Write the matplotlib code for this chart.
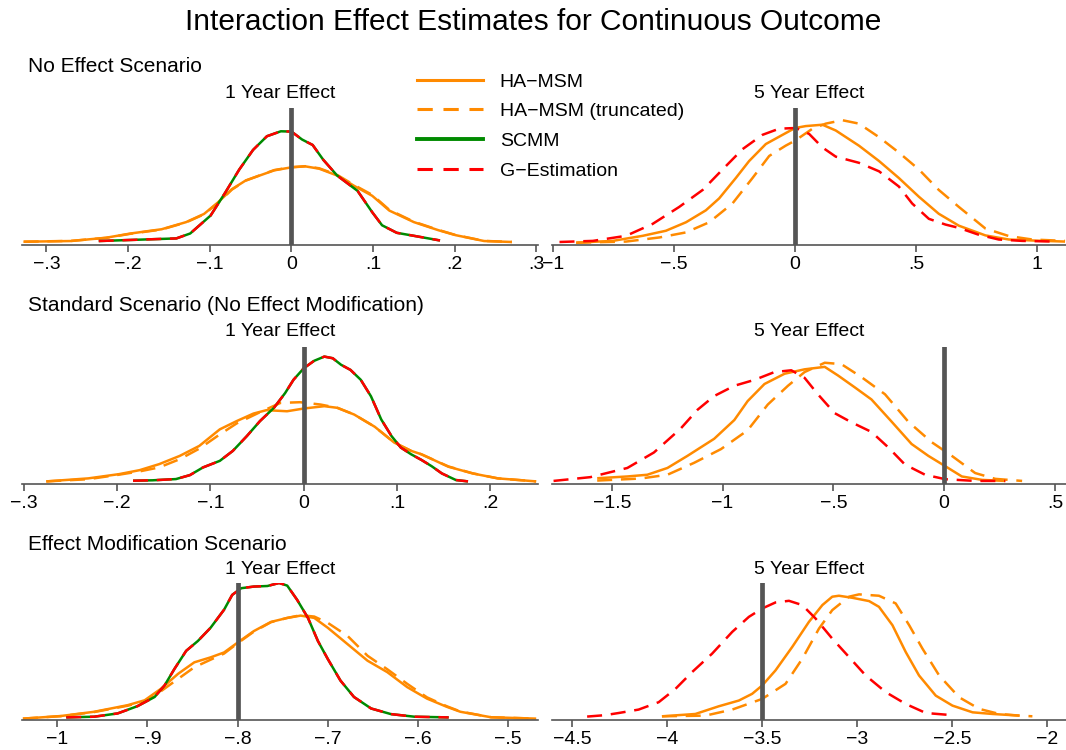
import matplotlib
matplotlib.use('Agg')
import matplotlib.pyplot as plt
from matplotlib.ticker import FuncFormatter
from matplotlib.lines import Line2D

plt.rcParams['font.family'] = ['Liberation Sans', 'DejaVu Sans']

# kernel density curves; heights are relative to panel height
# --- No effect scenario, 1 year ---
NO1_HA_X = [-0.328, -0.27, -0.227, -0.197, -0.159, -0.129, -0.107, -0.09, -0.073, -0.056, -0.039,
            -0.021, 0.0, 0.017, 0.034, 0.056, 0.077, 0.099, 0.12, 0.15, 0.18, 0.201, 0.236, 0.27]
NO1_HA_Y = [0.024, 0.029, 0.053, 0.084, 0.115, 0.167, 0.227, 0.311, 0.407, 0.471, 0.507,
            0.545, 0.567, 0.574, 0.557, 0.507, 0.431, 0.359, 0.251, 0.167, 0.108, 0.072, 0.029, 0.022]
NO1_TR_X = NO1_HA_X
NO1_TR_Y = [0.024, 0.030, 0.052, 0.082, 0.113, 0.165, 0.224, 0.307, 0.404, 0.470, 0.508,
            0.547, 0.568, 0.575, 0.560, 0.512, 0.437, 0.366, 0.256, 0.170, 0.110, 0.073, 0.030, 0.022]
NO1_SC_X = [-0.236, -0.176, -0.141, -0.124, -0.099, -0.081, -0.064, -0.047, -0.03, -0.013, 0.0,
            0.013, 0.026, 0.039, 0.056, 0.081, 0.099, 0.111, 0.129, 0.15, 0.182]
NO1_SC_Y = [0.029, 0.041, 0.048, 0.084, 0.215, 0.383, 0.55, 0.694, 0.794, 0.83, 0.828,
            0.77, 0.73, 0.622, 0.507, 0.395, 0.239, 0.144, 0.089, 0.067, 0.033]
NO1_GE_X = NO1_SC_X
NO1_GE_Y = NO1_SC_Y

# --- No effect scenario, 5 year ---
NO5_HA_X = [-0.905, -0.754, -0.63, -0.534, -0.451, -0.369, -0.314, -0.245, -0.19, -0.121, -0.052,
            0.0, 0.044, 0.113, 0.168, 0.264, 0.347, 0.429, 0.512, 0.594, 0.677, 0.787, 0.884,
            0.994, 1.116]
NO5_HA_Y = [0.017, 0.03, 0.067, 0.104, 0.166, 0.253, 0.34, 0.489, 0.613, 0.737, 0.804,
            0.854, 0.868, 0.878, 0.836, 0.725, 0.613, 0.489, 0.352, 0.228, 0.141, 0.07, 0.04,
            0.032, 0.025]
NO5_TR_X = [-0.905, -0.699, -0.561, -0.451, -0.355, -0.259, -0.176, -0.107, -0.039, 0.0, 0.072,
            0.127, 0.195, 0.264, 0.347, 0.429, 0.512, 0.594, 0.677, 0.787, 0.884, 0.981, 1.116]
NO5_TR_Y = [0.017, 0.025, 0.055, 0.092, 0.166, 0.303, 0.489, 0.65, 0.725, 0.762, 0.849,
            0.886, 0.911, 0.886, 0.787, 0.675, 0.551, 0.402, 0.278, 0.12, 0.065, 0.04, 0.03]
NO5_GE_X = [-0.974, -0.836, -0.699, -0.589, -0.479, -0.382, -0.3, -0.217, -0.135, -0.066, 0.003,
            0.058, 0.113, 0.168, 0.264, 0.347, 0.429, 0.484, 0.553, 0.622, 0.677, 0.759, 0.842,
            0.939, 1.078]
NO5_GE_Y = [0.022, 0.03, 0.067, 0.154, 0.278, 0.402, 0.551, 0.7, 0.804, 0.849, 0.854,
            0.811, 0.712, 0.645, 0.6, 0.538, 0.427, 0.303, 0.191, 0.149, 0.125, 0.075, 0.04,
            0.03, 0.025]

# --- Standard scenario, 1 year ---
ST1_HA_X = [-0.276, -0.231, -0.198, -0.176, -0.155, -0.133, -0.112, -0.09, -0.072, -0.054, -0.04,
            -0.018, 0.0, 0.022, 0.036, 0.054, 0.076, 0.097, 0.115, 0.126, 0.155, 0.181, 0.208, 0.249]
ST1_HA_Y = [0.019, 0.041, 0.072, 0.101, 0.145, 0.205, 0.278, 0.399, 0.459, 0.514, 0.539,
            0.531, 0.551, 0.568, 0.556, 0.507, 0.418, 0.302, 0.242, 0.217, 0.126, 0.077, 0.041, 0.019]
ST1_TR_X = [-0.276, -0.231, -0.198, -0.176, -0.155, -0.133, -0.112, -0.09, -0.072, -0.047, -0.025,
            -0.004, 0.018, 0.036, 0.054, 0.076, 0.097, 0.115, 0.126, 0.155, 0.181, 0.208, 0.249]
ST1_TR_Y = [0.019, 0.035, 0.068, 0.092, 0.121, 0.181, 0.258, 0.362, 0.442, 0.524, 0.592,
            0.597, 0.58, 0.556, 0.507, 0.418, 0.302, 0.242, 0.217, 0.128, 0.078, 0.041, 0.019]
ST1_SC_X = [-0.183, -0.162, -0.137, -0.122, -0.108, -0.09, -0.076, -0.061, -0.047, -0.032, -0.02,
            -0.011, 0.0, 0.011, 0.022, 0.031, 0.04, 0.05, 0.061, 0.072, 0.083, 0.094, 0.104,
            0.115, 0.126, 0.137, 0.148, 0.163, 0.176]
ST1_SC_Y = [0.024, 0.027, 0.036, 0.065, 0.121, 0.169, 0.242, 0.35, 0.459, 0.556, 0.664,
            0.761, 0.845, 0.899, 0.93, 0.918, 0.87, 0.833, 0.761, 0.64, 0.471, 0.35, 0.266,
            0.217, 0.176, 0.13, 0.077, 0.029, 0.019]
ST1_GE_X = ST1_SC_X
ST1_GE_Y = ST1_SC_Y

# --- Standard scenario, 5 year ---
ST5_HA_X = [-1.566, -1.43, -1.34, -1.249, -1.159, -1.038, -0.947, -0.887, -0.811, -0.72, -0.63,
            -0.539, -0.479, -0.403, -0.328, -0.237, -0.147, -0.071, 0.005, 0.08, 0.171, 0.276]
ST5_HA_Y = [0.042, 0.055, 0.0675, 0.117, 0.205, 0.33, 0.467, 0.605, 0.73, 0.805, 0.837,
            0.855, 0.792, 0.705, 0.617, 0.455, 0.292, 0.205, 0.13, 0.055, 0.03, 0.0225]
ST5_TR_X = [-1.566, -1.37, -1.249, -1.128, -1.007, -0.887, -0.796, -0.705, -0.63, -0.539, -0.464,
            -0.373, -0.267, -0.162, -0.056, 0.035, 0.14, 0.231, 0.352]
ST5_TR_Y = [0.025, 0.04, 0.0675, 0.155, 0.255, 0.392, 0.58, 0.717, 0.817, 0.885, 0.875,
            0.78, 0.655, 0.455, 0.305, 0.205, 0.08, 0.0375, 0.0225]
ST5_GE_X = [-1.763, -1.597, -1.43, -1.31, -1.189, -1.113, -1.038, -0.947, -0.856, -0.766, -0.69,
            -0.63, -0.57, -0.494, -0.418, -0.328, -0.252, -0.177, -0.086, 0.005, 0.14, 0.276]
ST5_GE_Y = [0.0225, 0.05, 0.117, 0.23, 0.405, 0.542, 0.642, 0.717, 0.76, 0.817, 0.83,
            0.775, 0.655, 0.517, 0.45, 0.38, 0.267, 0.142, 0.0675, 0.035, 0.0225, 0.0225]

# --- Effect modification scenario, 1 year ---
EM1_HA_X = [-1.038, -0.996, -0.959, -0.922, -0.903, -0.885, -0.866, -0.848, -0.83, -0.815, -0.8,
            -0.782, -0.763, -0.745, -0.73, -0.715, -0.7, -0.678, -0.656, -0.634, -0.612, -0.59,
            -0.568, -0.553, -0.519, -0.469]
EM1_HA_Y = [0.01, 0.029, 0.06, 0.108, 0.144, 0.228, 0.337, 0.421, 0.457, 0.493, 0.565,
            0.649, 0.716, 0.745, 0.762, 0.745, 0.673, 0.553, 0.433, 0.349, 0.24, 0.156,
            0.096, 0.06, 0.02, 0.01]
EM1_TR_X = EM1_HA_X
EM1_TR_Y = [0.01, 0.028, 0.058, 0.104, 0.136, 0.21, 0.3, 0.385, 0.44, 0.485, 0.56,
            0.645, 0.714, 0.745, 0.765, 0.755, 0.709, 0.613, 0.469, 0.37, 0.264, 0.165,
            0.1, 0.062, 0.02, 0.01]
EM1_SC_X = [-0.99, -0.959, -0.933, -0.911, -0.892, -0.881, -0.87, -0.857, -0.844, -0.83, -0.815,
            -0.806, -0.796, -0.782, -0.767, -0.754, -0.745, -0.734, -0.722, -0.711, -0.7, -0.686,
            -0.671, -0.652, -0.63, -0.604, -0.566]
EM1_SC_Y = [0.019, 0.024, 0.048, 0.101, 0.168, 0.252, 0.373, 0.505, 0.577, 0.673, 0.805,
            0.913, 0.962, 0.974, 0.978, 1.0, 0.981, 0.877, 0.745, 0.577, 0.445, 0.288,
            0.168, 0.084, 0.043, 0.024, 0.019]
EM1_GE_X = EM1_SC_X
EM1_GE_Y = EM1_SC_Y

# --- Effect modification scenario, 5 year ---
EM5_HA_X = [-4.028, -3.852, -3.729, -3.623, -3.553, -3.5, -3.43, -3.342, -3.254, -3.183, -3.131,
            -3.096, -3.025, -2.937, -2.885, -2.814, -2.744, -2.674, -2.586, -2.498, -2.392,
            -2.287, -2.146]
EM5_HA_Y = [0.027, 0.044, 0.1, 0.142, 0.191, 0.252, 0.362, 0.533, 0.716, 0.839, 0.9,
            0.907, 0.892, 0.868, 0.826, 0.692, 0.496, 0.325, 0.178, 0.105, 0.056,
            0.044, 0.032]
EM5_TR_X = [-4.028, -3.799, -3.658, -3.5, -3.377, -3.289, -3.201, -3.131, -3.043, -2.99, -2.885,
            -2.797, -2.726, -2.656, -2.568, -2.463, -2.357, -2.251, -2.146, -2.077]
EM5_TR_Y = [0.027, 0.032, 0.076, 0.154, 0.264, 0.447, 0.667, 0.802, 0.9, 0.917, 0.907,
            0.851, 0.692, 0.521, 0.325, 0.166, 0.081, 0.044, 0.032, 0.027]
EM5_GE_X = [-4.422, -4.33, -4.256, -4.151, -4.045, -3.957, -3.869, -3.764, -3.658, -3.57, -3.5,
            -3.43, -3.359, -3.289, -3.219, -3.131, -3.043, -2.955, -2.849, -2.744, -2.638, -2.515]
EM5_GE_Y = [0.025, 0.035, 0.051, 0.076, 0.13, 0.227, 0.35, 0.484, 0.643, 0.753, 0.814,
            0.858, 0.87, 0.839, 0.741, 0.594, 0.46, 0.325, 0.203, 0.117, 0.051, 0.037]

SCENARIOS = ['No Effect Scenario', 'Standard Scenario (No Effect Modification)',
             'Effect Modification Scenario']
TRUTH_1Y = [0.0, 0.0, -0.8]
TRUTH_5Y = [0.0, 0.0, -3.5]
TICKS_1Y = [[-0.3, -0.2, -0.1, 0, 0.1, 0.2, 0.3],
            [-0.3, -0.2, -0.1, 0, 0.1, 0.2],
            [-1.0, -0.9, -0.8, -0.7, -0.6, -0.5]]
TICKS_5Y = [[-1, -0.5, 0, 0.5, 1],
            [-1.5, -1, -0.5, 0, 0.5],
            [-4.5, -4, -3.5, -3, -2.5, -2]]
XLIM_1Y = [(-0.33, 0.302), (-0.302, 0.251), (-1.039, -0.467)]
XLIM_5Y = [(-1.005, 1.12), (-1.77, 0.55), (-4.607, -1.9)]

ORANGE = '#ff8a00'
GREEN = '#008a00'
RED = '#ff0000'
GRAY = '#555555'
DASH = (6, 3.5)
W, H = 1066, 750


def stata_fmt(v, pos=None):
    if abs(v) < 1e-9:
        return '0'
    s = '%g' % abs(v)
    if s.startswith('0.'):
        s = s[1:]
    return ('\u2212' + s) if v < 0 else s


def panel(ax, curves, truth, xlim, ticks):
    for x, y, col, ls in curves:
        ln, = ax.plot(x, y, color=col, lw=1.8, solid_capstyle='butt', solid_joinstyle='round')
        if ls == 'dash':
            ln.set_dashes(DASH)
    ax.axvline(truth, color=GRAY, lw=3.4, zorder=5)
    ax.set_xlim(*xlim)
    ax.set_ylim(0, 1)
    ax.set_xticks(ticks)
    ax.xaxis.set_major_formatter(FuncFormatter(stata_fmt))
    ax.set_yticks([])
    for sp in ('left', 'right', 'top'):
        ax.spines[sp].set_visible(False)
    ax.spines['bottom'].set_color(GRAY)
    ax.spines['bottom'].set_linewidth(1.2)
    ax.tick_params(axis='x', direction='out', length=5, width=1.2, color=GRAY,
                   labelsize=14, pad=3)
    ax.patch.set_alpha(0)


fig = plt.figure(figsize=(W / 100, H / 100), dpi=100)

rows_1y = [
    [(NO1_HA_X, NO1_HA_Y, ORANGE, 'solid'), (NO1_TR_X, NO1_TR_Y, ORANGE, 'dash'),
     (NO1_SC_X, NO1_SC_Y, GREEN, 'solid'), (NO1_GE_X, NO1_GE_Y, RED, 'dash')],
    [(ST1_HA_X, ST1_HA_Y, ORANGE, 'solid'), (ST1_TR_X, ST1_TR_Y, ORANGE, 'dash'),
     (ST1_SC_X, ST1_SC_Y, GREEN, 'solid'), (ST1_GE_X, ST1_GE_Y, RED, 'dash')],
    [(EM1_HA_X, EM1_HA_Y, ORANGE, 'solid'), (EM1_TR_X, EM1_TR_Y, ORANGE, 'dash'),
     (EM1_SC_X, EM1_SC_Y, GREEN, 'solid'), (EM1_GE_X, EM1_GE_Y, RED, 'dash')],
]
rows_5y = [
    [(NO5_HA_X, NO5_HA_Y, ORANGE, 'solid'), (NO5_TR_X, NO5_TR_Y, ORANGE, 'dash'),
     (NO5_GE_X, NO5_GE_Y, RED, 'dash')],
    [(ST5_HA_X, ST5_HA_Y, ORANGE, 'solid'), (ST5_TR_X, ST5_TR_Y, ORANGE, 'dash'),
     (ST5_GE_X, ST5_GE_Y, RED, 'dash')],
    [(EM5_HA_X, EM5_HA_Y, ORANGE, 'solid'), (EM5_TR_X, EM5_TR_Y, ORANGE, 'dash'),
     (EM5_GE_X, EM5_GE_Y, RED, 'dash')],
]

# pixel layout (top of plot region, axis line) per row
row_top = [108, 347, 583]
row_bot = [245, 484, 720]
label_y = [67, 306, 544]
title_y = [93, 332, 570]

for i in range(3):
    b = 1 - row_bot[i] / H
    h = (row_bot[i] - row_top[i]) / H
    axl = fig.add_axes([22 / W, b, 516 / W, h])
    axr = fig.add_axes([552 / W, b, 514 / W, h])
    panel(axl, rows_1y[i], TRUTH_1Y[i], XLIM_1Y[i], TICKS_1Y[i])
    panel(axr, rows_5y[i], TRUTH_5Y[i], XLIM_5Y[i], TICKS_5Y[i])
    fig.text(28 / W, 1 - label_y[i] / H, SCENARIOS[i], ha='left', va='center', fontsize=15)
    fig.text(280 / W, 1 - title_y[i] / H, '1 Year Effect', ha='center', va='center', fontsize=14)
    fig.text(809 / W, 1 - title_y[i] / H, '5 Year Effect', ha='center', va='center', fontsize=14)

fig.text(533 / W, 1 - 22 / H, 'Interaction Effect Estimates for Continuous Outcome',
         ha='center', va='center', fontsize=21.5)

handles = [Line2D([], [], color=ORANGE, lw=2.2),
           Line2D([], [], color=ORANGE, lw=2.2, dashes=(5, 3.5)),
           Line2D([], [], color=GREEN, lw=2.8),
           Line2D([], [], color=RED, lw=2.2, dashes=(5, 3.5))]
labels = ['HA\u2212MSM', 'HA\u2212MSM (truncated)', 'SCMM', 'G\u2212Estimation']
fig.legend(handles, labels, loc='upper left', bbox_to_anchor=(417 / W, 1 - 73 / H),
           frameon=False, fontsize=14, handlelength=3.4, handletextpad=0.85,
           labelspacing=0.62, borderpad=0, borderaxespad=0)

fig.savefig('out.png', dpi=100, facecolor='white')
